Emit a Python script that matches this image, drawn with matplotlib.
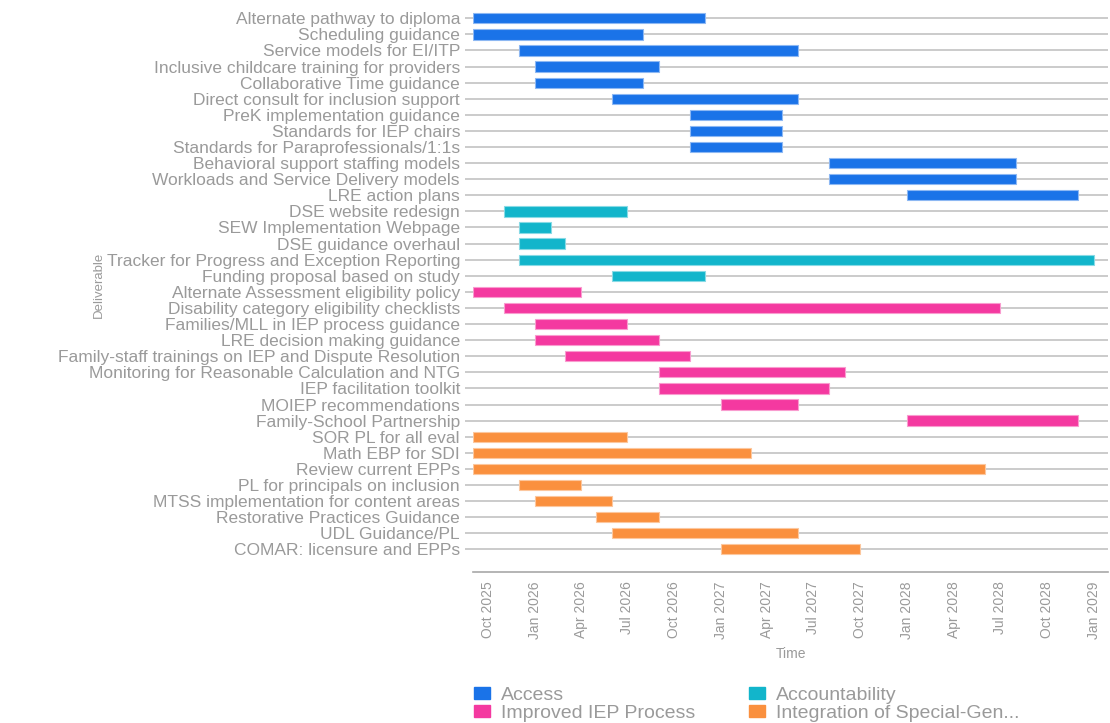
import matplotlib.pyplot as plt
import matplotlib.dates as mdates
import matplotlib.patches as mpatches
import pandas as pd

plt.rcParams['font.family'] = ['Liberation Sans', 'DejaVu Sans']


# DATA

TASKS = [
    "Alternate pathway to diploma", "Scheduling guidance",
    "Service models for EI/ITP", "Inclusive childcare training for providers",
    "Collaborative Time guidance", "Direct consult for inclusion support",
    "PreK implementation guidance", "Standards for IEP chairs",
    "Standards for Paraprofessionals/1:1s", "Behavioral support staffing models",
    "Workloads and Service Delivery models", "LRE action plans",
    "DSE website redesign", "SEW Implementation Webpage",
    "DSE guidance overhaul", "Tracker for Progress and Exception Reporting",
    "Funding proposal based on study", "Alternate Assessment eligibility policy",
    "Disability category eligibility checklists",
    "Families/MLL in IEP process guidance", "LRE decision making guidance",
    "Family-staff trainings on IEP and Dispute Resolution",
    "Monitoring for Reasonable Calculation and NTG", "IEP facilitation toolkit",
    "MOIEP recommendations", "Family-School Partnership",
    "SOR PL for all eval", "Math EBP for SDI", "Review current EPPs",
    "PL for principals on inclusion", "MTSS implementation for content areas",
    "Restorative Practices Guidance", "UDL Guidance/PL",
    "COMAR: licensure and EPPs",
]

STARTS = [
    "2025-09-01", "2025-09-01", "2025-12-01", "2026-01-01", "2026-01-01",
    "2026-06-01", "2026-11-01", "2026-11-01", "2026-11-01", "2027-08-01",
    "2027-08-01", "2028-01-01",
    "2025-11-01", "2025-12-01", "2025-12-01", "2025-12-01", "2026-06-01",
    "2025-09-01", "2025-11-01", "2026-01-01", "2026-01-01", "2026-03-01",
    "2026-09-01", "2026-09-01", "2027-01-01", "2028-01-01",
    "2025-09-01", "2025-09-01", "2025-09-01", "2025-12-01", "2026-01-01",
    "2026-05-01", "2026-06-01", "2027-01-01",
]

ENDS = [
    "2026-12-01", "2026-08-01", "2027-06-01", "2026-09-01", "2026-08-01",
    "2027-06-01", "2027-05-01", "2027-05-01", "2027-05-01", "2028-08-01",
    "2028-08-01", "2028-12-01",
    "2026-07-01", "2026-02-01", "2026-03-01", "2029-01-01", "2026-12-01",
    "2026-04-01", "2028-07-01", "2026-07-01", "2026-09-01", "2026-11-01",
    "2027-09-01", "2027-08-01", "2027-06-01", "2028-12-01",
    "2026-07-01", "2027-03-01", "2028-06-01", "2026-04-01", "2026-06-01",
    "2026-09-01", "2027-06-01", "2027-10-01",
]

GROUPS = [0] * 12 + [1] * 5 + [2] * 9 + [3] * 8

CATEGORIES = ["Access", "Accountability", "Improved IEP Process",
              "Integration of Special-Gen..."]

COLORS = ["#1A73E8", "#12B5CB", "#F439A0", "#FA903E"]
EDGES = ["#8DB8F3", "#88DAE5", "#F99CCF", "#FCC79E"]

TEXT = "#9A9A9A"
GRID = "#BDBDBD"


# PLOT

W, H = 1110, 723
fig = plt.figure(figsize=(W / 100, H / 100), dpi=100)

x0, x1 = 472.5, 1108
y0, y1 = 8.65, 571.7
ax = fig.add_axes([x0 / W, 1 - y1 / H, (x1 - x0) / W, (y1 - y0) / H])

left = mdates.date2num(pd.to_datetime(STARTS))
width = mdates.date2num(pd.to_datetime(ENDS)) - left
rows = list(range(len(TASKS)))

ax.barh(rows, width, left=left, height=0.64,
        color=[COLORS[g] for g in GROUPS],
        edgecolor=[EDGES[g] for g in GROUPS], linewidth=0.8, zorder=3)

ax.set_xlim(mdates.date2num(pd.Timestamp("2025-09-01")),
            mdates.date2num(pd.Timestamp("2029-01-28")))
ax.set_ylim(34.39, -0.6)

ax.set_yticks(rows)
ax.set_yticklabels(TASKS, fontsize=12.5, color=TEXT)
ax.tick_params(axis="y", length=6, width=1.1, color=GRID, pad=3)
ax.grid(axis="y", color=GRID, linewidth=1.1)
ax.set_axisbelow(True)

ax.xaxis.set_major_locator(mdates.MonthLocator(bymonth=[1, 4, 7, 10]))
ax.xaxis.set_major_formatter(mdates.DateFormatter("%b %Y"))
ax.tick_params(axis="x", length=0, pad=7, labelsize=10, labelcolor=TEXT,
               labelrotation=90)

for side in ["top", "right", "left"]:
    ax.spines[side].set_visible(False)
ax.spines["bottom"].set_color("#A8A8A8")
ax.spines["bottom"].set_linewidth(1.2)

ax.set_xlabel("Time", fontsize=10, color=TEXT, va="center")
ax.xaxis.set_label_coords((791 - x0) / (x1 - x0), -(654 - y1) / (y1 - y0))

ax.set_ylabel("Deliverable", fontsize=9.5, color=TEXT, va="center")
ax.yaxis.set_label_coords((99 - x0) / (x1 - x0), 1 - (285 - y0) / (y1 - y0))

handles = [mpatches.Patch(color=COLORS[i], label=CATEGORIES[i])
           for i in [0, 2, 1, 3]]
fig.legend(handles=handles, loc="upper left",
           bbox_to_anchor=(474 / W, 1 - 687 / H), ncol=2, frameon=False,
           fontsize=14, labelcolor=TEXT, handlelength=0.8, handleheight=0.6,
           handletextpad=0.6, columnspacing=2.75, labelspacing=0.05,
           borderpad=0, borderaxespad=0)

plt.savefig("out.png", dpi=100, facecolor="white")
